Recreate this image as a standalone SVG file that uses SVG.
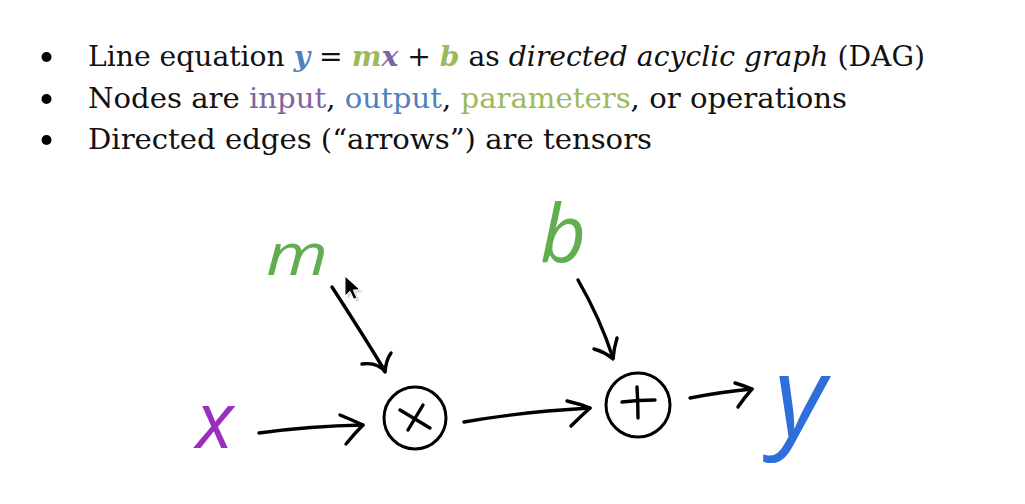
<svg xmlns="http://www.w3.org/2000/svg" width="1025" height="504" viewBox="0 0 1025 504">
  <style>
    .body { font-family: "DejaVu Serif", "Liberation Serif", serif; font-size: 28px; fill: #111; }
    .bi { font-weight: bold; font-style: italic; }
    .it { font-style: italic; }
    .blue { fill: #4f81bd; }
    .green { fill: #9bbb59; }
    .purple { fill: #8064a2; }
    .ink { fill: none; stroke: #000; stroke-width: 3.4; stroke-linecap: round; stroke-linejoin: round; }
    .op { fill: none; stroke: #000; stroke-width: 3; }
    .hand { font-family: "Open Sans", "DejaVu Sans", sans-serif; font-style: italic; font-weight: 400; }
  </style>

  <rect width="1025" height="504" fill="#fff"/>

  <!-- bullet list -->
  <g id="bullets">
    <circle cx="46.5" cy="57" r="5" fill="#000"/>
    <circle cx="46.5" cy="99" r="5" fill="#000"/>
    <circle cx="46.5" cy="140" r="5" fill="#000"/>
    <text class="body" x="88" y="66" textLength="837" lengthAdjust="spacingAndGlyphs">Line equation <tspan class="bi blue">y</tspan> = <tspan class="bi green">m</tspan><tspan class="bi purple">x</tspan> + <tspan class="bi green">b</tspan> as <tspan class="it">directed acyclic graph</tspan> (DAG)</text>
    <text class="body" x="88" y="108" textLength="759" lengthAdjust="spacingAndGlyphs">Nodes are <tspan class="purple">input</tspan>, <tspan class="blue">output</tspan>, <tspan class="green">parameters</tspan>, or operations</text>
    <text class="body" x="88" y="149" textLength="564" lengthAdjust="spacingAndGlyphs">Directed edges (“arrows”) are tensors</text>
  </g>

  <!-- graph nodes -->
  <g id="node-m">
    <text class="hand" x="266" y="275" font-size="58" fill="#62ad50" textLength="62" lengthAdjust="spacingAndGlyphs">m</text>
  </g>
  <g id="node-b">
    <text class="hand" x="540" y="262" font-size="80" fill="#62ad50">b</text>
  </g>
  <g id="node-x">
    <text class="hand" x="196" y="448" font-size="78" fill="#9a2fbd">x</text>
  </g>
  <g id="node-y">
    <text class="hand" x="774" y="436" font-size="112" fill="#2f6fdc">y</text>
  </g>
  <g id="node-mul">
    <circle class="op" cx="415" cy="418" r="31"/>
    <path class="ink" d="M423 405 L408 430 M400 410 L430 428"/>
  </g>
  <g id="node-add">
    <circle class="op" cx="638" cy="405" r="32"/>
    <path class="ink" d="M622 402 Q638 400 655 400 M637 387 Q638 403 638 418"/>
  </g>

  <!-- connectors (hand-drawn arrows) -->
  <g id="connectors">
    <path class="ink" d="M332 287 Q360 330 385 371"/>
    <path class="ink" d="M362 364 Q378 362 385 372 Q386 360 391 353"/>

    <path class="ink" d="M259 433 Q310 426 363 425"/>
    <path class="ink" d="M340 415 Q352 420 363 425 Q354 434 346 444"/>

    <path class="ink" d="M464 422 Q520 412 590 408"/>
    <path class="ink" d="M567 401 Q580 404 590 408 Q580 417 571 426"/>

    <path class="ink" d="M578 280 Q600 318 613 358"/>
    <path class="ink" d="M594 349 Q605 352 613 359 Q614 348 617 338"/>

    <path class="ink" d="M690 398 Q720 392 752 389"/>
    <path class="ink" d="M735 383 Q745 386 752 389 Q744 398 738 407"/>
  </g>

  <!-- mouse pointer with soft shadow -->
  <g id="pointer">
    <path d="M347.5 278.5 L347.5 298.5 L352.5 293.8 L356.2 301.8 L359.4 300.4 L355.8 292.6 L362.5 292.2 Z" fill="#bbb" opacity="0.6"/>
    <path d="M345 276 L345 296 L350 291.3 L353.7 299.3 L356.9 297.9 L353.3 290.1 L360 289.7 Z" fill="#000" stroke="#fff" stroke-width="1"/>
  </g>
</svg>
